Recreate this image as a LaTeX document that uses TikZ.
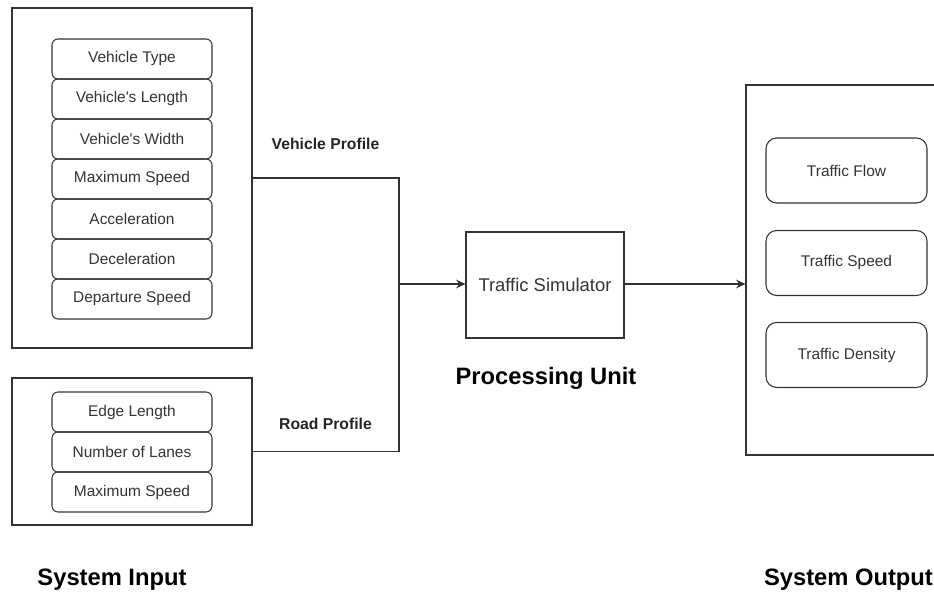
\documentclass[tikz,border=0pt]{standalone}
\usepackage{fontspec}
\setmainfont{Liberation Sans}[Ligatures=TeXOff]
\usetikzlibrary{arrows.meta}
\definecolor{ink}{HTML}{333333}
\tikzset{
  item/.style={draw=ink, line width=0.8pt, rounded corners=4.5pt, inner sep=0pt,
    minimum width=120pt, minimum height=30pt, text=ink, font=\fontsize{11.6}{13}\selectfont},
  outitem/.style={item, rounded corners=8pt, minimum width=120.75pt, minimum height=48.75pt},
  group/.style={draw=ink, line width=0.8pt, inner sep=0pt},
  link/.style={draw=ink, line width=0.8pt},
  tip/.style={-{Stealth[length=7pt,width=6.5pt]}},
  smalllabel/.style={font=\bfseries\fontsize{11.8}{13}\selectfont, text=ink!70!black},
  biglabel/.style={font=\bfseries\fontsize{17.8}{20}\selectfont, text=black}
}
\begin{document}
\begin{tikzpicture}[x=0.75pt, y=-0.75pt]
  \useasboundingbox (0,0) rectangle (934,598);
  \clip (0,0) rectangle (934,598);

  % input groups
  \node[group, minimum width=180pt, minimum height=255pt] (vbox) at (132,178) {};
  \node[group, minimum width=180pt, minimum height=110.25pt] (rbox) at (132,451.5) {};

  % vehicle parameters
  \node[item] (v1) at (132,59)  {Vehicle Type};
  \node[item] (v2) at (132,99)  {Vehicle's Length};
  \node[item] (v3) at (132,139) {Vehicle's Width};
  \node[item] (v4) at (132,179) {Maximum Speed};
  \node[item] (v5) at (132,219) {Acceleration};
  \node[item] (v6) at (132,259) {Deceleration};
  \node[item] (v7) at (132,299) {Departure Speed};

  % road parameters
  \node[item] (r1) at (132,412) {Edge Length};
  \node[item] (r2) at (132,452) {Number of Lanes};
  \node[item] (r3) at (132,492) {Maximum Speed};

  % processing
  \node[group, minimum width=118.5pt, minimum height=79.5pt, text=ink,
        font=\fontsize{13.8}{16}\selectfont] (sim) at (545,285) {Traffic Simulator};

  % outputs
  \node[group, minimum width=150.75pt, minimum height=277.5pt] (obox) at (846.5,270) {};
  \node[outitem] (o1) at (846.5,170.5) {Traffic Flow};
  \node[outitem] (o2) at (846.5,263)   {Traffic Speed};
  \node[outitem] (o3) at (846.5,355)   {Traffic Density};

  % connectors
  \coordinate (join) at (399,284);
  \draw[link] (vbox.east) -| (join);
  \draw[link] (rbox.east) -| (join);
  \draw[link, tip] (join) -- (sim.west |- join);
  \draw[link, tip] (sim.east |- join) -- (obox.west |- join);

  % labels
  \node[smalllabel] (lv) at (325.5,144) {Vehicle Profile};
  \node[smalllabel] (lr) at (325.5,424) {Road Profile};
  \node[biglabel] (lp) at (546,378) {Processing Unit};
  \node[biglabel] (li) at (112,580) {System Input};
  \node[biglabel] (lo) at (848.5,580) {System Output};
\end{tikzpicture}
\end{document}
